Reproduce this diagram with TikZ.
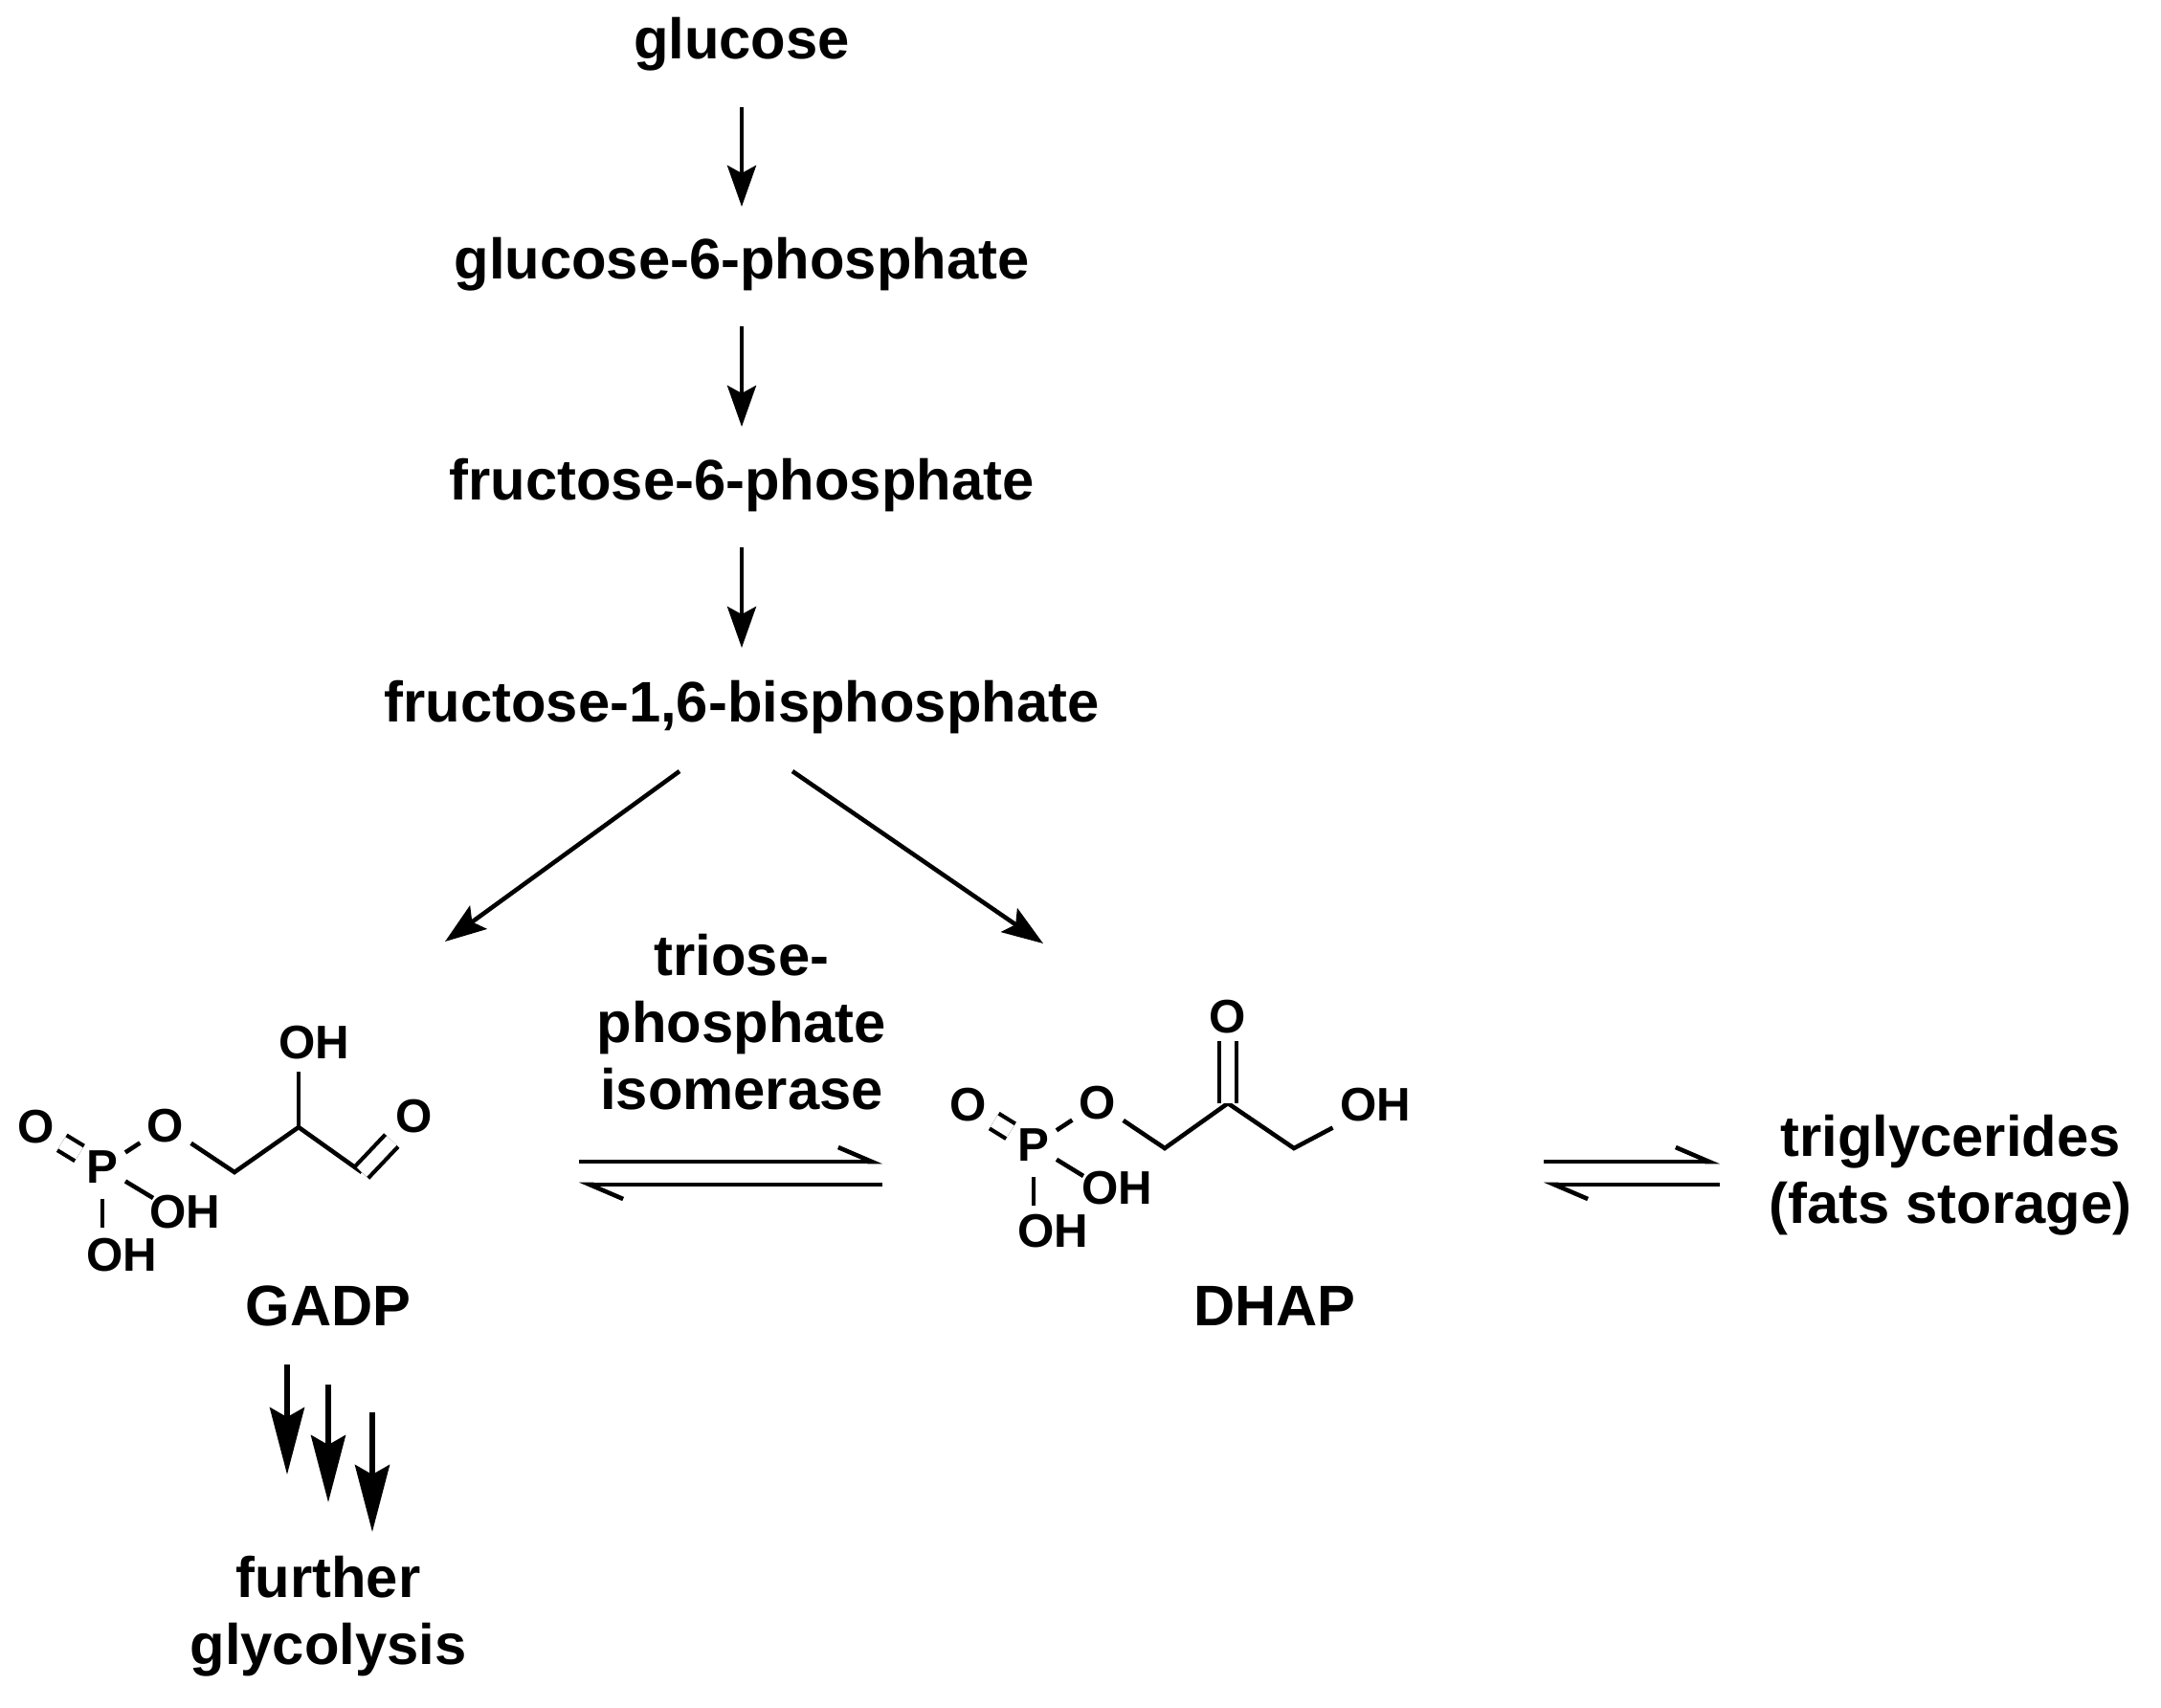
\documentclass[tikz,border=0pt]{standalone}
\usepackage{fontspec}
\setmainfont{Liberation Sans}
\usetikzlibrary{positioning,arrows.meta,calc}
\begin{document}
\begin{tikzpicture}[line width=1.3pt,
  lbl/.style={font=\bfseries\fontsize{17}{20}\selectfont, align=center},
  atom/.style={font=\bfseries\fontsize{14}{16}\selectfont, inner sep=1.5pt},
  arr/.style={-{Stealth[length=4.3mm,width=3mm,inset=0.8mm]}},
  bigarr/.style={line width=1.6pt,-{Stealth[length=7mm,width=3.6mm,inset=1mm]}},
  eq/.style={-{Straight Barb[left,length=3.5mm,width=3mm]}},
  dbl/.style={double, double distance=4pt, line width=1.2pt}]
\useasboundingbox (0,0) rectangle (22.58,-17.84);
% Pathway
\node[lbl] (glc) at (7.75,-0.46) {glucose};
\node[lbl] (g6p) at (7.75,-2.76) {glucose-6-phosphate};
\node[lbl] (f6p) at (7.75,-5.07) {fructose-6-phosphate};
\node[lbl] (fbp) at (7.75,-7.39) {fructose-1,6-bisphosphate};
\draw[arr] ([yshift=-0.66cm]glc.center) -- ([yshift=0.6cm]g6p.center);
\draw[arr] ([yshift=-0.65cm]g6p.center) -- ([yshift=0.61cm]f6p.center);
\draw[arr] ([yshift=-0.65cm]f6p.center) -- ([yshift=0.62cm]fbp.center);
% GADP
\node[atom] (a1) at (0.38,-11.78) {O};
\node[atom] (a2) at (1.07,-12.20) {P};
\node[atom] (a3) at (1.73,-11.77) {O};
\coordinate (a4) at (2.45,-12.25);
\coordinate (a5) at (3.12,-11.78);
\node[atom] (a6) at (3.28,-10.90) {OH};
\coordinate (a7) at (3.78,-12.25);
\node[atom] (a8) at (4.33,-11.67) {O};
\node[atom] (a9) at (1.93,-12.67) {OH};
\node[atom] (a10) at (1.27,-13.12) {OH};
\draw[dbl] (a1) -- (a2);
\draw (a2) -- (a3) (a3) -- (a4) -- (a5) -- (a7);
\draw (a5) -- (3.12,-11.20);
\draw[dbl] (a7) -- (a8);
\draw (a2) -- (1.60,-12.52);
\draw (1.07,-12.53) -- (1.07,-12.83);
\node[lbl] (gadp) at (3.43,-13.65) {GADP};
% DHAP
\node[atom] (b1) at (10.12,-11.55) {O};
\node[atom] (b2) at (10.80,-11.97) {P};
\node[atom] (b3) at (11.47,-11.53) {O};
\coordinate (b4) at (12.17,-12.00);
\coordinate (b5) at (12.83,-11.53);
\node[atom] (b6) at (12.83,-10.63) {O};
\coordinate (b7) at (13.52,-12.00);
\node[atom] (b8) at (14.37,-11.55) {OH};
\node[atom] (b9) at (11.67,-12.42) {OH};
\node[atom] (b10) at (11.00,-12.87) {OH};
\draw[dbl] (b1) -- (b2);
\draw (b2) -- (b3) (b3) -- (b4) -- (b5) -- (b7) -- (b8);
\draw[dbl] (b5) -- (b6);
\draw (b2) -- (11.32,-12.29);
\draw (10.80,-12.30) -- (10.80,-12.60);
\node[lbl] (dhap) at (13.32,-13.65) {DHAP};
% Split arrows
\draw[arr] (7.10,-8.06) -- (4.65,-9.84);
\draw[arr] (8.28,-8.06) -- (10.90,-9.86);
% Isomerase equilibrium
\node[lbl] (tpi) at (7.75,-10.68) {triose-\\phosphate\\isomerase};
\coordinate (e1) at (6.05,-12.14);
\coordinate (e2) at (9.22,-12.14);
\coordinate (e3) at (9.22,-12.38);
\coordinate (e4) at (6.05,-12.38);
\draw[eq] (e1) -- (e2);
\draw[eq] (e3) -- (e4);
% Fat storage
\node[lbl] (tg) at (20.38,-12.28) {triglycerides\\(fats storage)};
\coordinate (f1) at (16.13,-12.14);
\coordinate (f2) at (17.97,-12.14);
\coordinate (f3) at (17.97,-12.38);
\coordinate (f4) at (16.13,-12.38);
\draw[eq] (f1) -- (f2);
\draw[eq] (f3) -- (f4);
% Further glycolysis
\node[lbl] (glyc) at (3.43,-16.89) {further\\glycolysis};
\draw[bigarr] (3.00,-14.26) -- (3.00,-15.41);
\draw[bigarr] (3.43,-14.47) -- (3.43,-15.70);
\draw[bigarr] (3.89,-14.76) -- (3.89,-16.01);
\end{tikzpicture}
\end{document}
